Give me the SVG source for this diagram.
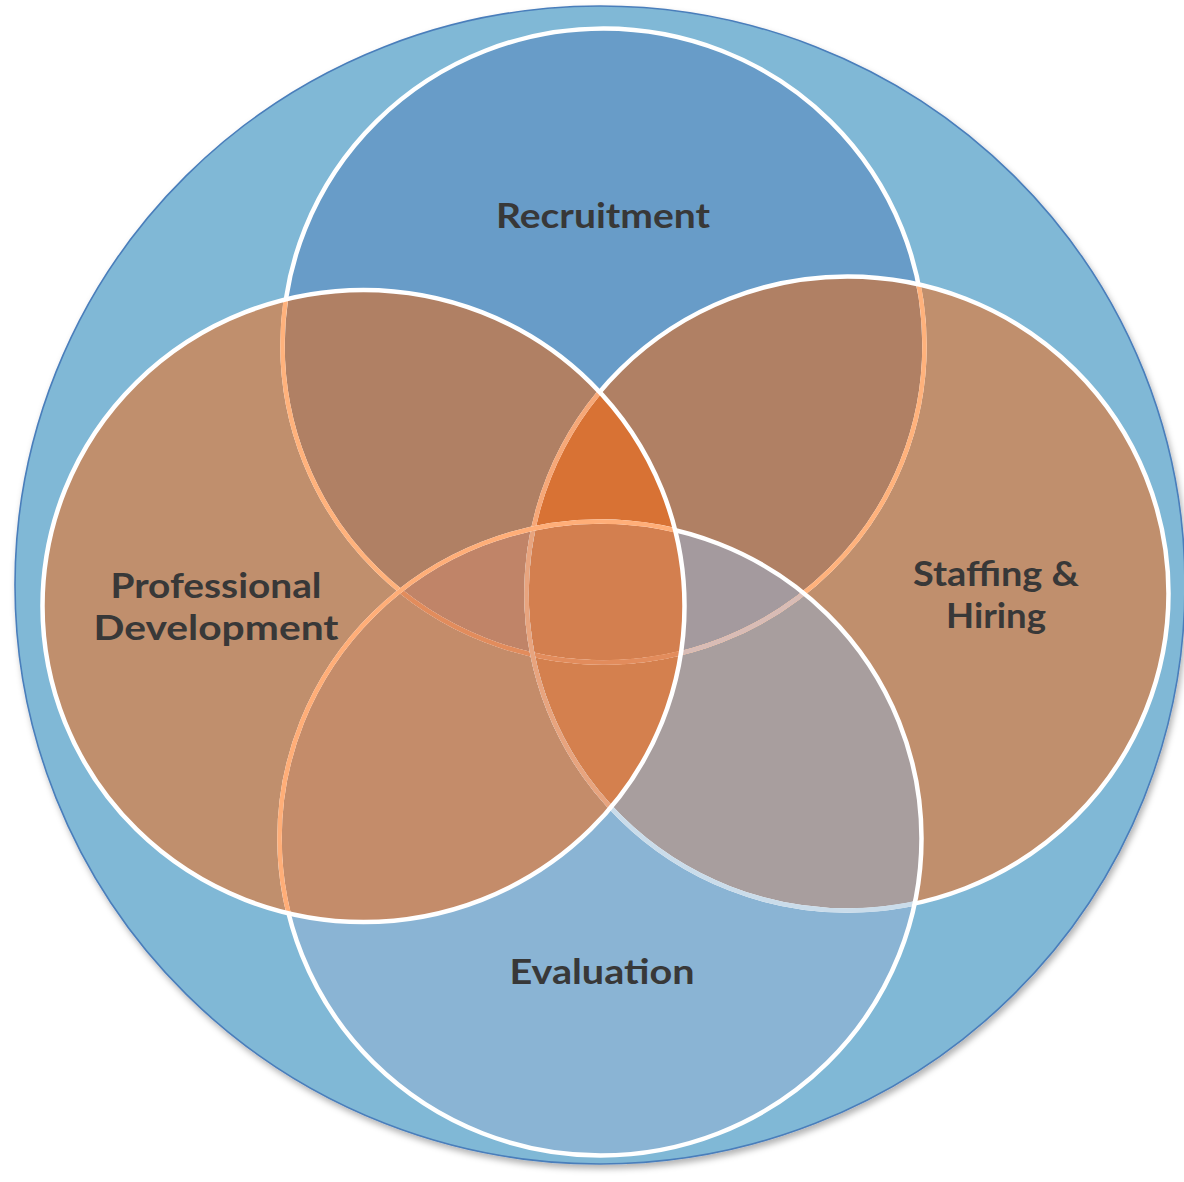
<svg xmlns="http://www.w3.org/2000/svg" width="1184" height="1182" viewBox="0 0 1184 1182">
  <style>
    .lbl { font-family: Lato, "Open Sans", "Liberation Sans", sans-serif; font-weight: 700; font-size: 35px; fill: #383838; text-anchor: middle; }
    .ring { fill: none; stroke-width: 4.5; }
  </style>
  <defs>
    <filter id="shadow" x="-5%" y="-5%" width="110%" height="110%">
      <feDropShadow dx="2" dy="4" stdDeviation="3" flood-color="#000" flood-opacity="0.3"/>
    </filter>
    <!-- circle areas used as clip regions for the overlaps -->
    <clipPath id="cR"><ellipse cx="603.5" cy="345.5" rx="321" ry="317"/></clipPath>
    <clipPath id="cS"><ellipse cx="847.5" cy="593.5" rx="321" ry="317"/></clipPath>
    <clipPath id="cE"><ellipse cx="600.5" cy="838.5" rx="321" ry="317"/></clipPath>
    <clipPath id="cP"><ellipse cx="363.5" cy="606" rx="321" ry="316"/></clipPath>
  </defs>

  <!-- enclosing circle -->
  <g id="outer">
    <ellipse cx="600" cy="585" rx="585" ry="579" fill="#80b8d6" stroke="#4a7ebb" stroke-width="1.6" filter="url(#shadow)"/>
  </g>

  <g id="recruitment">
    <ellipse cx="603.5" cy="345.5" rx="321" ry="317" fill="#689cc8"/>
    <text class="lbl" x="603" y="228" textLength="214" lengthAdjust="spacingAndGlyphs">Recruitment</text>
  </g>
  <g id="staffing-hiring">
    <ellipse cx="847.5" cy="593.5" rx="321" ry="317" fill="#c08f6d"/>
    <text class="lbl" x="996" y="586" textLength="166" lengthAdjust="spacingAndGlyphs">Staffing &amp;</text>
    <text class="lbl" x="996" y="628" textLength="100" lengthAdjust="spacingAndGlyphs">Hiring</text>
  </g>
  <g id="evaluation">
    <ellipse cx="600.5" cy="838.5" rx="321" ry="317" fill="#8ab4d4"/>
    <text class="lbl" x="602" y="984" textLength="185" lengthAdjust="spacingAndGlyphs">Evaluation</text>
  </g>
  <g id="professional-development">
    <ellipse cx="363.5" cy="606" rx="321" ry="316" fill="#c08f6d"/>
    <text class="lbl" x="216" y="598" textLength="211" lengthAdjust="spacingAndGlyphs">Professional</text>
    <text class="lbl" x="216" y="640" textLength="245" lengthAdjust="spacingAndGlyphs">Development</text>
  </g>

  <!-- overlap regions, pairs then triples then the common core -->
  <g id="overlaps">
    <g clip-path="url(#cR)"><ellipse cx="847.5" cy="593.5" rx="321" ry="317" fill="#b08064"/></g>
    <g clip-path="url(#cR)"><ellipse cx="363.5" cy="606" rx="321" ry="316" fill="#b08064"/></g>
    <g clip-path="url(#cE)"><ellipse cx="363.5" cy="606" rx="321" ry="316" fill="#c48c6a"/></g>
    <g clip-path="url(#cE)"><ellipse cx="847.5" cy="593.5" rx="321" ry="317" fill="#a89e9e"/></g>

    <g clip-path="url(#cR)"><g clip-path="url(#cS)"><ellipse cx="363.5" cy="606" rx="321" ry="316" fill="#d87234"/></g></g>
    <g clip-path="url(#cR)"><g clip-path="url(#cS)"><ellipse cx="600.5" cy="838.5" rx="321" ry="317" fill="#a49a9e"/></g></g>
    <g clip-path="url(#cR)"><g clip-path="url(#cP)"><ellipse cx="600.5" cy="838.5" rx="321" ry="317" fill="#c08468"/></g></g>
    <g clip-path="url(#cS)"><g clip-path="url(#cP)"><ellipse cx="600.5" cy="838.5" rx="321" ry="317" fill="#d4804e"/></g></g>

    <g clip-path="url(#cR)"><g clip-path="url(#cS)"><g clip-path="url(#cP)"><ellipse cx="600.5" cy="838.5" rx="321" ry="317" fill="#d37f4f"/></g></g></g>
  </g>

  <!-- outlines, tinted where a later circle lies over them -->
  <g id="outlines">
    <ellipse class="ring" cx="603.5" cy="345.5" rx="321" ry="317" stroke="#ffffff"/>
    <g clip-path="url(#cS)"><ellipse class="ring" cx="603.5" cy="345.5" rx="321" ry="317" stroke="#ffb27c"/></g>
    <g clip-path="url(#cP)"><ellipse class="ring" cx="603.5" cy="345.5" rx="321" ry="317" stroke="#ffb27c"/></g>
    <g clip-path="url(#cE)"><ellipse class="ring" cx="603.5" cy="345.5" rx="321" ry="317" stroke="#d8bcb6"/></g>
    <g clip-path="url(#cE)"><g clip-path="url(#cP)"><ellipse class="ring" cx="603.5" cy="345.5" rx="321" ry="317" stroke="#e28c5c"/></g></g>

    <ellipse class="ring" cx="847.5" cy="593.5" rx="321" ry="317" stroke="#ffffff"/>
    <g clip-path="url(#cP)"><ellipse class="ring" cx="847.5" cy="593.5" rx="321" ry="317" stroke="#f6a878"/></g>
    <g clip-path="url(#cE)"><ellipse class="ring" cx="847.5" cy="593.5" rx="321" ry="317" stroke="#cadcea"/></g>
    <g clip-path="url(#cE)"><g clip-path="url(#cP)"><ellipse class="ring" cx="847.5" cy="593.5" rx="321" ry="317" stroke="#e8a47e"/></g></g>

    <ellipse class="ring" cx="600.5" cy="838.5" rx="321" ry="317" stroke="#ffffff"/>
    <g clip-path="url(#cP)"><ellipse class="ring" cx="600.5" cy="838.5" rx="321" ry="317" stroke="#ffae78"/></g>

    <ellipse class="ring" cx="363.5" cy="606" rx="321" ry="316" stroke="#ffffff"/>
  </g>
</svg>
